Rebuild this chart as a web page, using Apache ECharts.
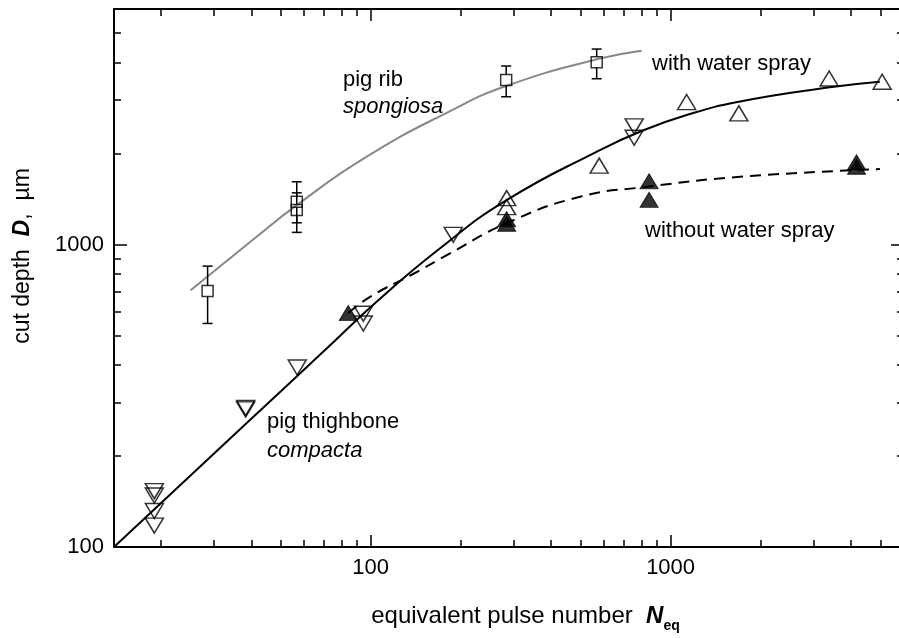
<!DOCTYPE html>
<html>
<head>
<meta charset="utf-8">
<script src="https://cdn.jsdelivr.net/npm/echarts@6/dist/echarts.min.js"></script>
<style>
html, body { margin: 0; padding: 0; background: #fff; }
#chartmain { width: 899px; height: 638px; }
</style>
</head>
<body>
<div id="chartmain"></div>
<script>
// axis ranges and ticks
var xMin = 13.94, xMax = 6000;
var yMin = 100, yMax = 6000;
var xMajor = [100, 1000];
var xMinor = [20, 30, 40, 50, 60, 70, 80, 90, 200, 300, 400, 500, 600, 700, 800, 900, 2000, 3000, 4000, 5000];
var yMajor = [100, 1000];
var yMinor = [200, 300, 400, 500, 600, 700, 800, 900, 2000, 3000, 4000, 5000];

// pig rib spongiosa: open squares with error bars
var ribN = [28.6, 56.7, 56.7, 283, 567];
var ribD = [701, 1383, 1299, 3494, 3999];
var ribLow = [548, 1179, 1096, 3077, 3529];
var ribHigh = [848, 1611, 1481, 3888, 4424];
// grey fit curve through them
var ribFitN = [25.1, 40, 56.7, 97, 184, 283, 567, 800];
var ribFitD = [706, 1026, 1349, 1950, 2759, 3338, 4091, 4368];

// with water spray, open down triangles
var downN = [19, 19, 19, 19, 38.3, 38.3, 56.9, 94.5, 94.5, 188.5, 756, 756];
var downD = [153, 148, 131.5, 117.7, 288, 285, 392, 590, 548, 1076, 2456, 2252];
// with water spray, open up triangles
var upN = [284, 284, 578, 1131, 1689, 3378, 5074];
var upD = [1423, 1328, 1822, 2955, 2712, 3535, 3449];
// without water spray, filled up triangles
var dryN = [84.2, 284, 284, 848, 848, 4168, 4168];
var dryD = [593, 1212, 1170, 1616, 1404, 1868, 1806];

// fit curves
var sprayFitN = [13.94, 38.3, 70, 106, 170, 284, 581, 790, 1131, 1689, 3396, 4985];
var sprayFitD = [100, 255, 445, 654, 970, 1401, 2050, 2357, 2677, 2962, 3305, 3449];
var dryFitN = [84.2, 99.5, 137, 181.4, 284, 498.5, 832, 1702, 4985];
var dryFitD = [593, 671, 794, 927, 1175, 1437, 1550, 1673, 1774];

function pairs(a, b) {
    return a.map(function (v, i) { return [v, b[i]]; });
}

var FONT = '"Liberation Sans", Arial, sans-serif';

//坐标轴: 主刻度和次刻度分开画
function logAxis(isX, pos, ticks, len, extra) {
    var ax = {
        type: 'log',
        logBase: 10,
        position: pos,
        min: isX ? xMin : yMin,
        max: isX ? xMax : yMax,
        splitLine: { show: false },
        minorTick: { show: false },
        axisLine: { show: false, onZero: false },
        axisTick: {
            show: true,
            inside: true,
            length: len,
            customValues: ticks,
            lineStyle: { color: '#000', width: 1.5 }
        },
        axisLabel: { show: false }
    };
    return Object.assign(ax, extra || {});
}

var frameLine = { show: true, onZero: false, lineStyle: { color: '#000', width: 2 } };
var tickLabel = {
    show: true,
    customValues: [100, 1000],
    margin: 10,
    fontSize: 22,
    fontFamily: FONT,
    color: '#000',
    formatter: function (v) { return String(Math.round(v)); }
};

var openStyle = { color: 'rgba(0,0,0,0)', borderColor: '#000', borderWidth: 1.5 };

var option = {
    animation: false,
    backgroundColor: '#fff',
    grid: { left: 114, right: -5, top: 9, bottom: 91, outerBoundsMode: 'none' },
    xAxis: [
        logAxis(true, 'bottom', xMajor, 12, {
            axisLine: frameLine,
            axisLabel: tickLabel,
            name: '{t|equivalent pulse number  }{n|N}{s|eq}',
            nameLocation: 'middle',
            nameGap: 52,
            nameTextStyle: {
                padding: [0, 0, 0, 33],
                rich: {
                    t: { fontSize: 24, fontFamily: FONT, color: '#000', lineHeight: 34 },
                    n: { fontSize: 24, fontFamily: FONT, color: '#000', fontWeight: 'bold', fontStyle: 'italic', lineHeight: 34 },
                    s: { fontSize: 14, fontFamily: FONT, color: '#000', fontWeight: 'bold', verticalAlign: 'bottom', lineHeight: 14 }
                }
            }
        }),
        logAxis(true, 'bottom', xMinor, 7),
        logAxis(true, 'top', xMajor, 12, { axisLine: frameLine }),
        logAxis(true, 'top', xMinor, 7)
    ],
    yAxis: [
        logAxis(false, 'left', yMajor, 13, {
            axisLine: frameLine,
            axisLabel: tickLabel,
            name: '{t|cut depth  }{d|D}{t|,  µm}',
            nameLocation: 'middle',
            nameRotate: 90,
            nameGap: 80,
            nameTextStyle: {
                padding: [0, 0, 0, 44],
                rich: {
                    t: { fontSize: 23, fontFamily: FONT, color: '#000' },
                    d: { fontSize: 23, fontFamily: FONT, color: '#000', fontWeight: 'bold', fontStyle: 'italic' }
                }
            }
        }),
        logAxis(false, 'left', yMinor, 7),
        logAxis(false, 'right', yMajor, 13, { axisLine: frameLine }),
        logAxis(false, 'right', yMinor, 7)
    ],
    series: [
        {
            name: 'rib fit', type: 'line', smooth: true, showSymbol: false, silent: true,
            data: pairs(ribFitN, ribFitD),
            lineStyle: { color: '#888', width: 2 }, z: 2
        },
        {
            name: 'spray fit', type: 'line', smooth: true, showSymbol: false, silent: true,
            data: pairs(sprayFitN, sprayFitD),
            lineStyle: { color: '#000', width: 2 }, z: 2
        },
        {
            name: 'dry fit', type: 'line', smooth: true, showSymbol: false, silent: true,
            data: pairs(dryFitN, dryFitD),
            lineStyle: { color: '#000', width: 2, type: [11, 7] }, z: 2
        },
        {
            //误差棒
            name: 'rib error', type: 'custom', silent: true, z: 3,
            data: ribN.map(function (n, i) { return [n, ribLow[i], ribHigh[i], ribD[i]]; }),
            encode: { x: 0, y: [1, 2, 3] },
            renderItem: function (params, api) {
                var x = api.value(0);
                var lo = api.coord([x, api.value(1)]);
                var hi = api.coord([x, api.value(2)]);
                var mid = api.coord([x, api.value(3)]);
                var cap = 5, gap = 5.5;
                var st = { stroke: '#000', lineWidth: 1.5 };
                return {
                    type: 'group',
                    children: [
                        { type: 'line', shape: { x1: hi[0], y1: hi[1], x2: hi[0], y2: mid[1] - gap }, style: st },
                        { type: 'line', shape: { x1: lo[0], y1: mid[1] + gap, x2: lo[0], y2: lo[1] }, style: st },
                        { type: 'line', shape: { x1: hi[0] - cap, y1: hi[1], x2: hi[0] + cap, y2: hi[1] }, style: st },
                        { type: 'line', shape: { x1: lo[0] - cap, y1: lo[1], x2: lo[0] + cap, y2: lo[1] }, style: st }
                    ]
                };
            }
        },
        {
            name: 'rib', type: 'scatter', symbol: 'rect', symbolSize: 11, z: 4,
            data: pairs(ribN, ribD), itemStyle: openStyle
        },
        {
            name: 'spray down', type: 'scatter', symbol: 'triangle', symbolRotate: 180, symbolSize: [18, 15], z: 4,
            data: pairs(downN, downD), itemStyle: openStyle
        },
        {
            name: 'spray up', type: 'scatter', symbol: 'triangle', symbolSize: [18, 15], z: 4,
            data: pairs(upN, upD), itemStyle: openStyle
        },
        {
            name: 'dry', type: 'scatter', symbol: 'triangle', symbolSize: [18, 15], z: 4,
            data: pairs(dryN, dryD), itemStyle: { color: '#000', borderColor: '#000', borderWidth: 1 }
        }
    ],
    graphic: [
        { type: 'text', x: 343, y: 80, style: { text: 'pig rib', fontSize: 22, fontFamily: FONT, fill: '#000', verticalAlign: 'middle' } },
        { type: 'text', x: 343, y: 107, style: { text: 'spongiosa', fontSize: 22, fontStyle: 'italic', fontFamily: FONT, fill: '#000', verticalAlign: 'middle' } },
        { type: 'text', x: 652, y: 64, style: { text: 'with water spray', fontSize: 22, fontFamily: FONT, fill: '#000', verticalAlign: 'middle' } },
        { type: 'text', x: 645, y: 231, style: { text: 'without water spray', fontSize: 22, fontFamily: FONT, fill: '#000', verticalAlign: 'middle' } },
        { type: 'text', x: 267, y: 422, style: { text: 'pig thighbone', fontSize: 22, fontFamily: FONT, fill: '#000', verticalAlign: 'middle' } },
        { type: 'text', x: 267, y: 451, style: { text: 'compacta', fontSize: 22, fontStyle: 'italic', fontFamily: FONT, fill: '#000', verticalAlign: 'middle' } }
    ]
};

var myChart = echarts.init(document.getElementById('chartmain'));
myChart.setOption(option);
</script>
</body>
</html>
